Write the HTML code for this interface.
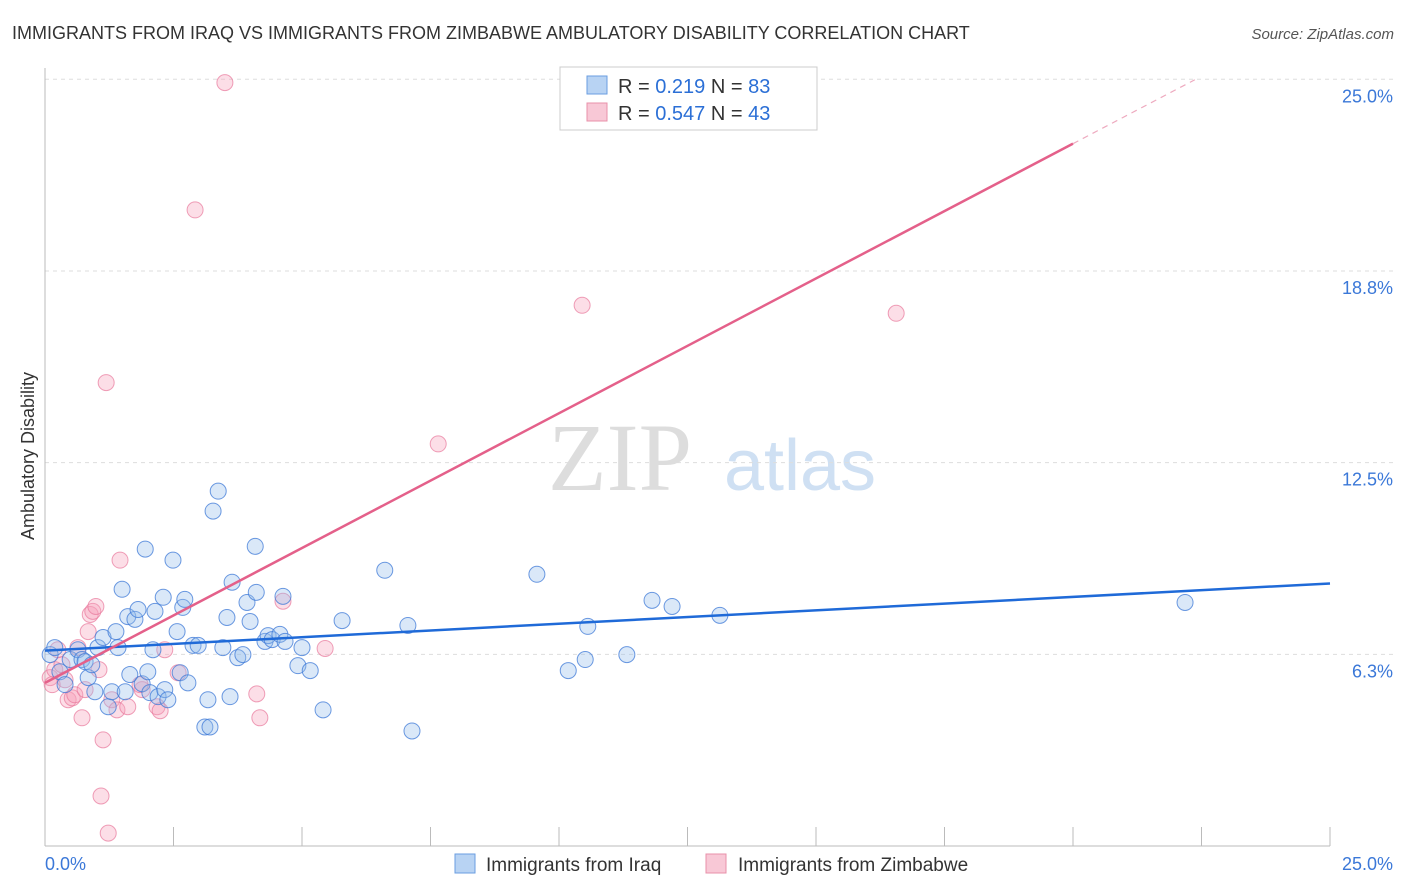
<!DOCTYPE html>
<html><head><meta charset="utf-8"><style>
body{margin:0;width:1406px;height:892px;background:#fff;font-family:"Liberation Sans",sans-serif;overflow:hidden}
svg{position:absolute;left:0;top:0}
</style></head><body>
<svg width="1406" height="892" id="chart">
<text x="12" y="39" font-size="18" fill="#333">IMMIGRANTS FROM IRAQ VS IMMIGRANTS FROM ZIMBABWE AMBULATORY DISABILITY CORRELATION CHART</text>
<text x="1394" y="39" font-size="15" fill="#555" font-style="italic" text-anchor="end">Source: ZipAtlas.com</text>
<text x="34" y="456" font-size="18" fill="#333" transform="rotate(-90 34 456)" text-anchor="middle">Ambulatory Disability</text>
<text x="620" y="490" font-size="96" fill="#ddd" font-family="Liberation Serif,serif" text-anchor="middle">ZIP</text>
<text x="800" y="490" font-size="72" fill="#cfe0f3" text-anchor="middle">atlas</text>
<g id="grid"></g><g id="axes"></g><g id="pts"></g><g id="trend"></g>
<g>
<rect x="560" y="67" width="257" height="63" fill="#fff" stroke="#ccc"/>
<rect x="587" y="76" width="20" height="18" fill="#b8d3f3" stroke="#6a9ee0"/>
<text x="618" y="93" font-size="20" fill="#333">R = <tspan fill="#2b6fd6">0.219</tspan>   N = <tspan fill="#2b6fd6">83</tspan></text>
<rect x="587" y="103" width="20" height="18" fill="#f8c8d6" stroke="#e890aa"/>
<text x="618" y="120" font-size="20" fill="#333">R = <tspan fill="#2b6fd6">0.547</tspan>   N = <tspan fill="#2b6fd6">43</tspan></text>
</g>
<g>
<rect x="455" y="854" width="20" height="19" fill="#b8d3f3" stroke="#6a9ee0"/>
<text x="486" y="871" font-size="19" fill="#333">Immigrants from Iraq</text>
<rect x="706" y="854" width="20" height="19" fill="#f8c8d6" stroke="#e890aa"/>
<text x="738" y="871" font-size="19" fill="#333">Immigrants from Zimbabwe</text>
</g>
</svg>
<script>
const blueX=[0.10,0.19,0.29,0.39,0.49,0.64,0.72,0.78,0.84,0.91,0.97,1.03,1.13,1.23,1.30,1.38,1.42,1.50,1.56,1.61,1.65,1.75,1.81,1.89,1.95,2.00,2.04,2.10,2.14,2.20,2.30,2.33,2.39,2.49,2.57,2.63,2.68,2.72,2.78,2.88,2.98,3.11,3.17,3.21,3.27,3.37,3.46,3.54,3.60,3.64,3.75,3.85,3.93,3.99,4.09,4.11,4.28,4.34,4.42,4.57,4.63,4.67,4.92,5.00,5.16,5.41,5.78,6.61,7.06,7.14,9.57,10.18,10.51,10.56,11.32,11.81,12.20,13.13,22.18];
const blueY=[6.24,6.47,5.68,5.26,6.08,6.40,6.08,6.01,5.49,5.91,5.03,6.47,6.80,4.54,5.03,6.99,6.47,8.37,5.03,7.48,5.59,7.39,7.71,5.29,9.68,5.68,5.00,6.40,7.65,4.87,8.11,5.10,4.77,9.32,6.99,5.65,7.78,8.04,5.32,6.54,6.54,3.88,4.77,3.88,10.92,11.57,6.47,7.45,4.87,8.60,6.14,6.24,7.94,7.32,9.77,8.27,6.67,6.86,6.73,6.90,8.14,6.67,5.88,6.47,5.72,4.44,7.35,8.99,7.19,3.75,8.86,5.72,6.08,7.16,6.24,8.01,7.81,7.52,7.94];
const pinkX=[0.10,0.14,0.19,0.25,0.33,0.39,0.45,0.53,0.58,0.64,0.72,0.78,0.84,0.88,0.93,0.99,1.05,1.09,1.13,1.19,1.23,1.30,1.40,1.46,1.61,1.89,1.85,2.18,2.24,2.33,2.59,2.92,3.50,4.12,4.18,4.63,5.45,7.65,10.45,16.56];
const pinkY=[5.49,5.26,5.75,6.40,5.91,5.42,4.77,4.83,4.93,6.47,4.18,5.10,6.99,7.55,7.65,7.81,5.75,1.63,3.46,15.11,0.42,4.77,4.44,9.32,4.54,5.10,5.26,4.54,4.41,6.40,5.65,20.74,24.89,4.96,4.18,7.98,6.44,13.11,17.63,17.37];
const yTicks=[6.25,12.5,18.75,25];
const yTickLabels=["6.3%","12.5%","18.8%","25.0%"];
const xTicks=[0,2.5,5,7.5,10,12.5,15,17.5,20,22.5,25];
const blueTrend=[6.37,8.56];
const pinkIntercept=5.32, pinkSlope=0.879, pinkSolidEnd=20, pinkDashEnd=22.37;
const NS="http://www.w3.org/2000/svg";
const xs=v=>45+v*51.4, ys=v=>846-v*30.67;
function mk(p,t,a){const e=document.createElementNS(NS,t);for(const k in a)e.setAttribute(k,a[k]);document.getElementById(p).appendChild(e);return e;}
yTicks.forEach((t,i)=>{
 const g=mk('grid','line',{x1:45,x2:1394,y1:ys(t),y2:ys(t),stroke:'#ddd','stroke-dasharray':'4,4'});
 
 
 const l=mk('axes','text',{x:1393,y:ys(t)+23,'font-size':18,fill:'#3b78d8','text-anchor':'end'});
 l.textContent=yTickLabels[i];
 
 
});
const ax=mk('axes','line',{x1:45,x2:45,y1:68,y2:846,stroke:'#bbb'});


const bx=mk('axes','line',{x1:45,x2:1330,y1:846,y2:846,stroke:'#bbb'});


xTicks.forEach(t=>{const e=mk('axes','line',{x1:xs(t),x2:xs(t),y1:827,y2:846,stroke:'#bbb'});
 
 });
const xl0=mk('axes','text',{x:45,y:870,'font-size':18,fill:'#3b78d8'});xl0.textContent='0.0%';


const xl1=mk('axes','text',{x:1393,y:870,'font-size':18,fill:'#3b78d8','text-anchor':'end'});xl1.textContent='25.0%';


pinkX.forEach((x,i)=>{if(pinkY[i]==null)return;const c=mk('pts','circle',{cx:xs(x),cy:ys(pinkY[i]),r:8,fill:'rgba(245,160,185,0.35)',stroke:'rgba(232,120,155,0.7)','stroke-width':1});
 
 });
blueX.forEach((x,i)=>{if(blueY[i]==null)return;const c=mk('pts','circle',{cx:xs(x),cy:ys(blueY[i]),r:8,fill:'rgba(150,190,235,0.35)',stroke:'rgba(60,120,215,0.75)','stroke-width':1});
 
 });
const bt=mk('trend','line',{x1:xs(0),y1:ys(blueTrend[0]),x2:xs(25),y2:ys(blueTrend[1]),stroke:'#1f6ad8','stroke-width':2.5});


const pt=mk('trend','line',{x1:xs(0),y1:ys(pinkIntercept),x2:xs(pinkSolidEnd),y2:ys(pinkIntercept+pinkSlope*pinkSolidEnd),stroke:'#e4608a','stroke-width':2.5});


const pd=mk('trend','line',{x1:xs(pinkSolidEnd),y1:ys(pinkIntercept+pinkSlope*pinkSolidEnd),x2:xs(pinkDashEnd),y2:ys(pinkIntercept+pinkSlope*pinkDashEnd),stroke:'#eeaabf','stroke-width':1.2,'stroke-dasharray':'6,5'});


</script>
</body></html>
